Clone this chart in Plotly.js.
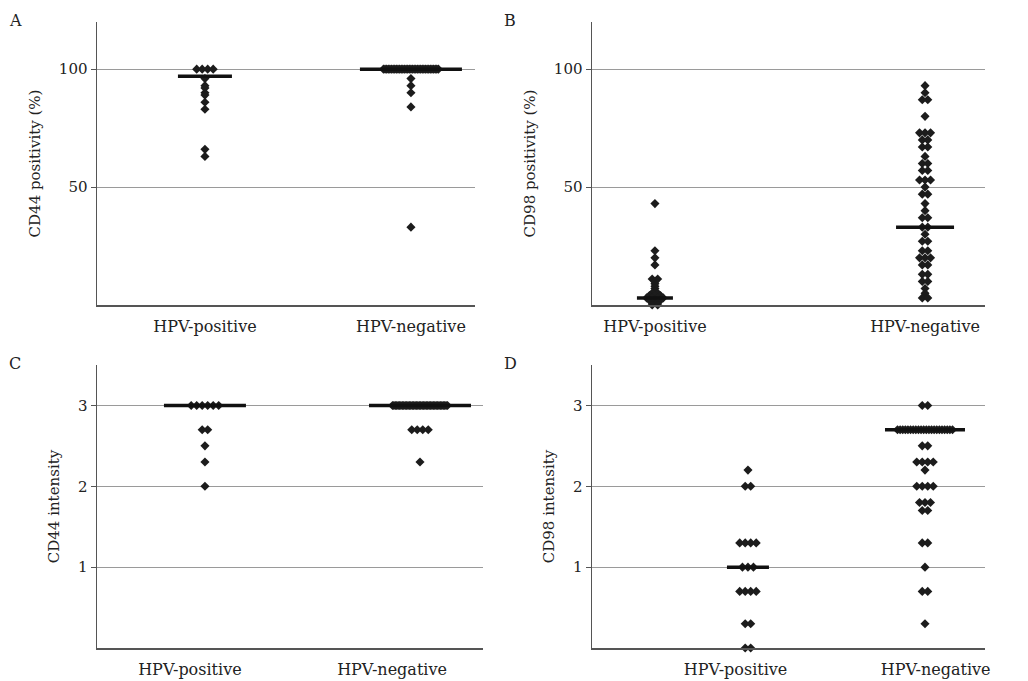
<!DOCTYPE html>
<html>
<head>
<meta charset="utf-8">
<script src="https://cdn.plot.ly/plotly-3.0.1.min.js"></script>
<style>html,body{margin:0;padding:0;background:#fff;}#chart{width:1028px;height:681px;}</style>
</head>
<body>
<div id="chart"></div>
<script>
// ---------- data ----------
const categories = ['HPV-positive', 'HPV-negative'];

// A: CD44 positivity (%)
const cd44PosHpvPositive = [100,100,100,100, 96, 93, 92, 90, 89, 86, 83, 66, 63];
const cd44PosHpvNegative = [100,100,100,100,100,100,100,100,100,100,100,100,100,100,100,100,100,100,100,100,
                            100,100,100,100,100,100,100,100,100,100,100,100,100,100,100, 96, 93, 90, 84, 33];
const cd44PosMedians = [97, 100];

// B: CD98 positivity (%)
const cd98PosHpvPositive = [43, 23, 20, 17, 11, 11, 10, 9, 8, 7, 6, 5, 5, 4, 4, 4, 3, 3, 3, 3, 2, 2, 2, 1, 1, 0, 0];
const cd98PosHpvNegative = [93, 90, 87, 87, 80, 73, 73, 73, 70, 70, 67, 67, 63, 60, 60, 57, 57, 53, 53, 53, 50,
                            47, 47, 43, 40, 37, 37, 33, 33, 30, 27, 27, 23, 23, 20, 20, 20, 17, 17, 13, 13, 10, 10, 7, 5, 3, 3];
const cd98PosMedians = [3, 33];

// C: CD44 intensity
const cd44IntHpvPositive = [3,3,3,3,3,3, 2.7, 2.7, 2.5, 2.3, 2.0];
const cd44IntHpvNegative = [3,3,3,3,3,3,3,3,3,3,3,3,3,3,3,3,3,3,3,3,3,3,3,3,3,3,3,3,3,3,3,3,3,3,3,3,3,3,3,3,
                            2.7, 2.7, 2.7, 2.7, 2.3];
const cd44IntMedians = [3, 3];

// D: CD98 intensity
const cd98IntHpvPositive = [2.2, 2.0, 2.0, 1.3, 1.3, 1.3, 1.3, 1.0, 1.0, 1.0, 0.7, 0.7, 0.7, 0.7, 0.3, 0.3, 0, 0];
const cd98IntHpvNegative = [3, 3, 2.7,2.7,2.7,2.7,2.7,2.7,2.7,2.7,2.7,2.7,2.7,2.7,2.7,2.7,2.7,2.7,2.7,2.7,2.7,2.7,2.7,2.7,
                            2.5, 2.5, 2.3, 2.3, 2.3, 2.3, 2.2, 2.0, 2.0, 2.0, 2.0, 1.8, 1.8, 1.8, 1.7, 1.7,
                            1.3, 1.3, 1.0, 0.7, 0.7, 0.3];
const cd98IntMedians = [1, 2.7];

const yTitles = ['CD44 positivity (%)', 'CD98 positivity (%)', 'CD44 intensity', 'CD98 intensity'];
const panelLetters = ['A', 'B', 'C', 'D'];
const pctTicks = [50, 100];
const intTicks = [1, 2, 3];

// ---------- layout geometry (pixels) ----------
const W = 1028, H = 681;
const FONT = 'DejaVu Serif, Liberation Serif, serif';
const panels = [
  {series:[cd44PosHpvPositive, cd44PosHpvNegative], med:cd44PosMedians, x0:97, x1:475, y0:22, y1:305,
   xr:[-0.524, 1.311], yr:[0, 120], yt:pctTicks, lbl:[0, 1], medHalf:[27, 51]},
  {series:[cd98PosHpvPositive, cd98PosHpvNegative], med:cd98PosMedians, x0:592, x1:985, y0:22, y1:305,
   xr:[-0.233, 1.222], yr:[0, 120], yt:pctTicks, lbl:[0, 1], medHalf:[18, 29]},
  {series:[cd44IntHpvPositive, cd44IntHpvNegative], med:cd44IntMedians, x0:97, x1:483, y0:365, y1:648,
   xr:[-0.502, 1.293], yr:[0, 3.5], yt:intTicks, lbl:[-0.07, 0.87], medHalf:[41, 51]},
  {series:[cd98IntHpvPositive, cd98IntHpvNegative], med:cd98IntMedians, x0:592, x1:985, y0:365, y1:648,
   xr:[-0.881, 1.339], yr:[0, 3.5], yt:intTicks, lbl:[-0.07, 1.06], medHalf:[21, 40]}
];

function swarm(values, center, pxPerUnit) {
  const counts = {}, seen = {};
  values.forEach(v => { counts[v] = (counts[v] || 0) + 1; });
  return values.map(v => {
    const n = counts[v];
    const i = seen[v] || 0; seen[v] = i + 1;
    const step = n > 1 ? Math.min(5.5, 55 / (n - 1)) : 0;
    return center + ((i - (n - 1) / 2) * step) / pxPerUnit;
  });
}

const traces = [];
const layout = {
  width: W, height: H, margin: {l:0, r:0, t:0, b:0},
  paper_bgcolor: '#fff', plot_bgcolor: '#fff', showlegend: false,
  font: {family: FONT, color: '#222', size: 15},
  annotations: [], hovermode: false
};

panels.forEach((p, k) => {
  const ax = k === 0 ? '' : String(k + 1);
  const xa = 'x' + ax, ya = 'y' + ax;
  const pxPerUnit = (p.x1 - p.x0) / (p.xr[1] - p.xr[0]);
  p.series.forEach((vals, c) => {
    traces.push({
      type: 'scatter', mode: 'markers', xaxis: xa, yaxis: ya,
      x: swarm(vals, c, pxPerUnit), y: vals,
      marker: {symbol: 'diamond', size: 7, color: '#1c1c1c', line: {width: 0}},
      cliponaxis: false
    });
    const hw = p.medHalf[c] / pxPerUnit;
    traces.push({
      type: 'scatter', mode: 'lines', xaxis: xa, yaxis: ya,
      x: [c - hw, c + hw], y: [p.med[c], p.med[c]],
      line: {color: '#111', width: 3.5}, cliponaxis: false
    });
  });
  layout['xaxis' + ax] = {
    domain: [p.x0 / W, p.x1 / W], range: p.xr, anchor: ya,
    showgrid: false, zeroline: false, showline: true, linecolor: '#555', linewidth: 1.5,
    tickmode: 'array', tickvals: p.lbl, ticktext: categories, ticks: '',
    ticklabelstandoff: 6, tickfont: {family: FONT, size: 16, color: '#222'}, fixedrange: true
  };
  layout['yaxis' + ax] = {
    domain: [1 - p.y1 / H, 1 - p.y0 / H], range: p.yr, anchor: xa,
    showgrid: true, gridcolor: '#9a9a9a', gridwidth: 1, zeroline: false,
    showline: true, linecolor: '#555', linewidth: 1.5,
    tickmode: 'array', tickvals: p.yt, ticks: 'outside', ticklen: 5, tickcolor: '#555',
    tickfont: {family: FONT, size: 15, color: '#222'},
    title: {text: yTitles[k], font: {family: FONT, size: 15, color: '#222'}, standoff: 14},
    fixedrange: true
  };
  layout.annotations.push({
    text: panelLetters[k], xref: 'paper', yref: 'paper', showarrow: false,
    x: (p.x0 - 90) / W, y: 1 - (p.y0 - 2) / H, xanchor: 'left', yanchor: 'middle',
    font: {family: FONT, size: 16, color: '#222'}
  });
});

Plotly.newPlot('chart', traces, layout, {staticPlot: true, displayModeBar: false});
</script>
</body>
</html>
